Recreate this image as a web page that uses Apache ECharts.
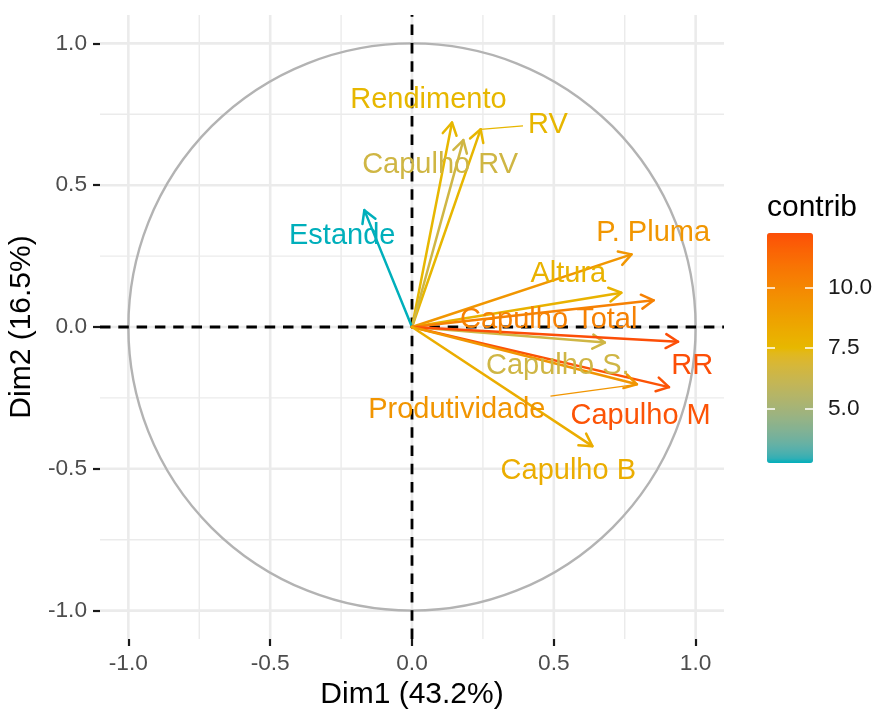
<!DOCTYPE html>
<html><head><meta charset="utf-8">
<script src="https://cdn.jsdelivr.net/npm/echarts@6/dist/echarts.min.js"></script>
<style>html,body{margin:0;padding:0;background:#fff}#c{width:877px;height:709px}</style>
</head><body><div id="c"></div>
<script>
// ---- data ----
const variables = ['Rendimento','RV','Capulho RV','Estande','P. Pluma','Altura','Capulho Total','Capulho S.','RR','Capulho M','Produtividade','Capulho B'];
const dim1 = [0.141, 0.242, 0.181, -0.168, 0.774, 0.738, 0.852, 0.680, 0.938, 0.906, 0.793, 0.636];
const dim2 = [0.721, 0.697, 0.659, 0.412, 0.256, 0.121, 0.094, -0.055, -0.052, -0.212, -0.202, -0.420];
const contrib = [7.53, 7.60, 6.52, 2.77, 9.28, 7.81, 10.26, 6.50, 12.24, 12.09, 9.35, 8.11];
// repelled label anchor positions (data units)
const labelX = [0.058, 0.479, 0.099, -0.246, 0.850, 0.551, 0.482, 0.514, 0.988, 0.806, 0.158, 0.551];
const labelY = [0.804, 0.716, 0.575, 0.325, 0.335, 0.190, 0.028, -0.134, -0.134, -0.312, -0.289, -0.504];
const labelSegment = [false, true, false, false, false, false, false, false, false, false, true, false];
const axisTicks = [-1.0, -0.5, 0.0, 0.5, 1.0];
const minorGrid = [-0.75, -0.25, 0.25, 0.75];
const legendTicks = [5.0, 7.5, 10.0];
const gradientColors = ['#00AFBB', '#E7B800', '#FC4E07'];

// ---- colour ramp interpolated in CIELAB (like ggplot's gradientn) ----
function hexToLab(hex) {
  const rgb = [1, 3, 5].map(k => parseInt(hex.substr(k, 2), 16) / 255)
    .map(c => c <= 0.04045 ? c / 12.92 : Math.pow((c + 0.055) / 1.055, 2.4));
  const X = (0.4124 * rgb[0] + 0.3576 * rgb[1] + 0.1805 * rgb[2]) / 0.95047;
  const Y = (0.2126 * rgb[0] + 0.7152 * rgb[1] + 0.0722 * rgb[2]);
  const Z = (0.0193 * rgb[0] + 0.1192 * rgb[1] + 0.9505 * rgb[2]) / 1.08883;
  const f = t => t > 0.008856 ? Math.cbrt(t) : 7.787 * t + 16 / 116;
  return [116 * f(Y) - 16, 500 * (f(X) - f(Y)), 200 * (f(Y) - f(Z))];
}
function labToHex(lab) {
  const fy = (lab[0] + 16) / 116, fx = fy + lab[1] / 500, fz = fy - lab[2] / 200;
  const inv = t => t > 0.206893 ? t * t * t : (t - 16 / 116) / 7.787;
  const X = inv(fx) * 0.95047, Y = inv(fy), Z = inv(fz) * 1.08883;
  const lin = [3.2406 * X - 1.5372 * Y - 0.4986 * Z, -0.9689 * X + 1.8758 * Y + 0.0415 * Z, 0.0557 * X - 0.2040 * Y + 1.0570 * Z];
  return '#' + lin.map(c => {
    c = c <= 0.0031308 ? 12.92 * c : 1.055 * Math.pow(c, 1 / 2.4) - 0.055;
    c = Math.max(0, Math.min(1, c));
    return Math.round(c * 255).toString(16).padStart(2, '0');
  }).join('');
}
function labRamp(cols, stepsPerSeg) {
  const labs = cols.map(hexToLab);
  const out = [];
  for (let s = 0; s < labs.length - 1; s++) {
    for (let k = 0; k < stepsPerSeg; k++) {
      const t = k / stepsPerSeg;
      out.push(labToHex(labs[s].map((v, j) => v + (labs[s + 1][j] - v) * t)));
    }
  }
  out.push(cols[cols.length - 1]);
  return out;
}
const rampColors = labRamp(gradientColors, 24);

// ---- chart ----
const FONT = '"Liberation Sans", Arial, sans-serif';
const chart = echarts.init(document.getElementById('c'), null, {renderer: 'canvas', width: 877, height: 709});
const mctx = document.createElement('canvas').getContext('2d');
function textWidth(t, size) { mctx.font = size + 'px "Liberation Sans"'; return mctx.measureText(t).width; }

const cMin = Math.min(...contrib), cMax = Math.max(...contrib);
const arrowData = variables.map((v, i) => [dim1[i], dim2[i], contrib[i]]);
const labelData = variables.map((v, i) => [labelX[i], labelY[i], contrib[i], dim1[i], dim2[i], i]);

function renderBackground(params, api) {
  const cs = params.coordSys;
  const ch = [];
  const addLines = (vals, w) => vals.forEach(v => {
    const px = api.coord([v, 0])[0], py = api.coord([0, v])[1];
    ch.push({type: 'line', shape: {x1: px, y1: cs.y, x2: px, y2: cs.y + cs.height}, style: {stroke: '#EBEBEB', lineWidth: w}});
    ch.push({type: 'line', shape: {x1: cs.x, y1: py, x2: cs.x + cs.width, y2: py}, style: {stroke: '#EBEBEB', lineWidth: w}});
  });
  addLines(minorGrid, 1.4);
  addLines(axisTicks, 2.6);
  const c = api.coord([0, 0]);
  const r = api.coord([1, 0])[0] - c[0];
  ch.push({type: 'circle', shape: {cx: c[0], cy: c[1], r: r}, style: {stroke: '#B3B3B3', fill: null, lineWidth: 2.4}});
  ch.push({type: 'line', shape: {x1: cs.x, y1: c[1], x2: cs.x + cs.width, y2: c[1]}, style: {stroke: '#000', lineWidth: 2.8, lineDash: [10.5, 7.8]}});
  ch.push({type: 'line', shape: {x1: c[0], y1: cs.y + cs.height, x2: c[0], y2: cs.y}, style: {stroke: '#000', lineWidth: 2.8, lineDash: [10.5, 7.8]}});
  return {type: 'group', children: ch};
}

function renderArrow(params, api) {
  const o = api.coord([0, 0]);
  const t = api.coord([api.value(0), api.value(1)]);
  const color = api.visual('color');
  const ang = Math.atan2(t[1] - o[1], t[0] - o[0]);
  const L = 14, a = Math.PI / 6;
  const p1 = [t[0] - L * Math.cos(ang - a), t[1] - L * Math.sin(ang - a)];
  const p2 = [t[0] - L * Math.cos(ang + a), t[1] - L * Math.sin(ang + a)];
  return {type: 'group', children: [
    {type: 'line', shape: {x1: o[0], y1: o[1], x2: t[0], y2: t[1]}, style: {stroke: color, lineWidth: 2.5, lineCap: 'round'}},
    {type: 'polyline', shape: {points: [p1, t, p2]}, style: {stroke: color, fill: null, lineWidth: 2.5, lineCap: 'round', lineJoin: 'round'}}
  ]};
}

function renderLabel(params, api) {
  const i = api.value(5);
  const name = variables[i];
  const c = api.coord([api.value(0), api.value(1)]);
  const color = api.visual('color');
  const size = 29;
  const children = [];
  if (labelSegment[i]) {
    const tip = api.coord([api.value(3), api.value(4)]);
    const hw = textWidth(name, size) / 2 + 5, hh = size * 0.5 + 4;
    const dx = tip[0] - c[0], dy = tip[1] - c[1];
    const s = Math.min(dx !== 0 ? hw / Math.abs(dx) : Infinity, dy !== 0 ? hh / Math.abs(dy) : Infinity);
    if (s < 1) {
      children.push({type: 'line', shape: {x1: c[0] + dx * s, y1: c[1] + dy * s, x2: tip[0], y2: tip[1]},
        style: {stroke: color, lineWidth: 1.3}});
    }
  }
  children.push({type: 'text', x: c[0], y: c[1] + 1, style: {text: name, fill: color, fontSize: size, fontFamily: FONT, align: 'center', verticalAlign: 'middle'}});
  return {type: 'group', children: children};
}

const hiddenLine = {show: true, onZero: false, lineStyle: {color: 'rgba(0,0,0,0)'}};
const option = {
  animation: false,
  backgroundColor: '#ffffff',
  title: {text: 'contrib', left: 767, top: 193, padding: 0,
    textStyle: {fontSize: 30, fontWeight: 'normal', color: '#000', fontFamily: FONT}},
  grid: [
    {left: 100, top: 15, width: 624, height: 624, containLabel: false, outerBoundsMode: 'none'},
    {left: 767, top: 233, width: 46, height: 230, containLabel: false, outerBoundsMode: 'none'}
  ],
  xAxis: [
    {gridIndex: 0, type: 'value', min: -1.1, max: 1.1,
      axisLine: hiddenLine,
      axisTick: {show: true, length: 7, lineStyle: {color: '#1A1A1A', width: 2.2}, customValues: axisTicks},
      axisLabel: {customValues: axisTicks, formatter: v => v.toFixed(1), color: '#4D4D4D', fontSize: 22.7, fontFamily: FONT, margin: 13},
      splitLine: {show: false},
      name: 'Dim1 (43.2%)', nameLocation: 'middle', nameGap: 38,
      nameTextStyle: {fontSize: 30, color: '#000', fontFamily: FONT}},
    {gridIndex: 1, type: 'value', show: false, min: 0, max: 1}
  ],
  yAxis: [
    {gridIndex: 0, type: 'value', min: -1.1, max: 1.1,
      axisLine: hiddenLine,
      axisTick: {show: true, length: 7, lineStyle: {color: '#1A1A1A', width: 2.2}, customValues: axisTicks},
      axisLabel: {customValues: axisTicks, formatter: v => v.toFixed(1), color: '#4D4D4D', fontSize: 22.7, fontFamily: FONT, margin: 13},
      splitLine: {show: false},
      name: 'Dim2 (16.5%)', nameLocation: 'middle', nameGap: 58, nameRotate: 90,
      nameTextStyle: {fontSize: 30, color: '#000', fontFamily: FONT}},
    {gridIndex: 1, type: 'value', position: 'left', min: cMin, max: cMax, z: 10,
      axisLine: {show: false},
      axisTick: {show: true, inside: true, length: 8, lineStyle: {color: '#fff', width: 1.5}, customValues: legendTicks},
      axisLabel: {show: false}, splitLine: {show: false}},
    {gridIndex: 1, type: 'value', position: 'right', min: cMin, max: cMax, z: 10,
      axisLine: {show: false},
      axisTick: {show: true, inside: true, length: 8, lineStyle: {color: '#fff', width: 1.5}, customValues: legendTicks},
      axisLabel: {customValues: legendTicks, formatter: v => v.toFixed(1), color: '#1A1A1A', fontSize: 22.7, fontFamily: FONT, margin: 15},
      splitLine: {show: false}}
  ],
  visualMap: {
    type: 'continuous', min: cMin, max: cMax, dimension: 2, seriesIndex: [1, 2],
    inRange: {color: rampColors}, left: 767, top: 233, itemWidth: 46, itemHeight: 230,
    padding: 0, calculable: false, text: null, orient: 'vertical', hoverLink: false
  },
  series: [
    {type: 'custom', name: 'background', xAxisIndex: 0, yAxisIndex: 0, data: [[0, 0]], renderItem: renderBackground, z: 1, silent: true},
    {type: 'custom', name: 'arrows', xAxisIndex: 0, yAxisIndex: 0, data: arrowData, encode: {x: 0, y: 1}, renderItem: renderArrow, z: 3, silent: true},
    {type: 'custom', name: 'labels', xAxisIndex: 0, yAxisIndex: 0, data: labelData, encode: {x: 0, y: 1}, renderItem: renderLabel, z: 4, silent: true}
  ]
};
chart.setOption(option);
</script>
</body></html>
